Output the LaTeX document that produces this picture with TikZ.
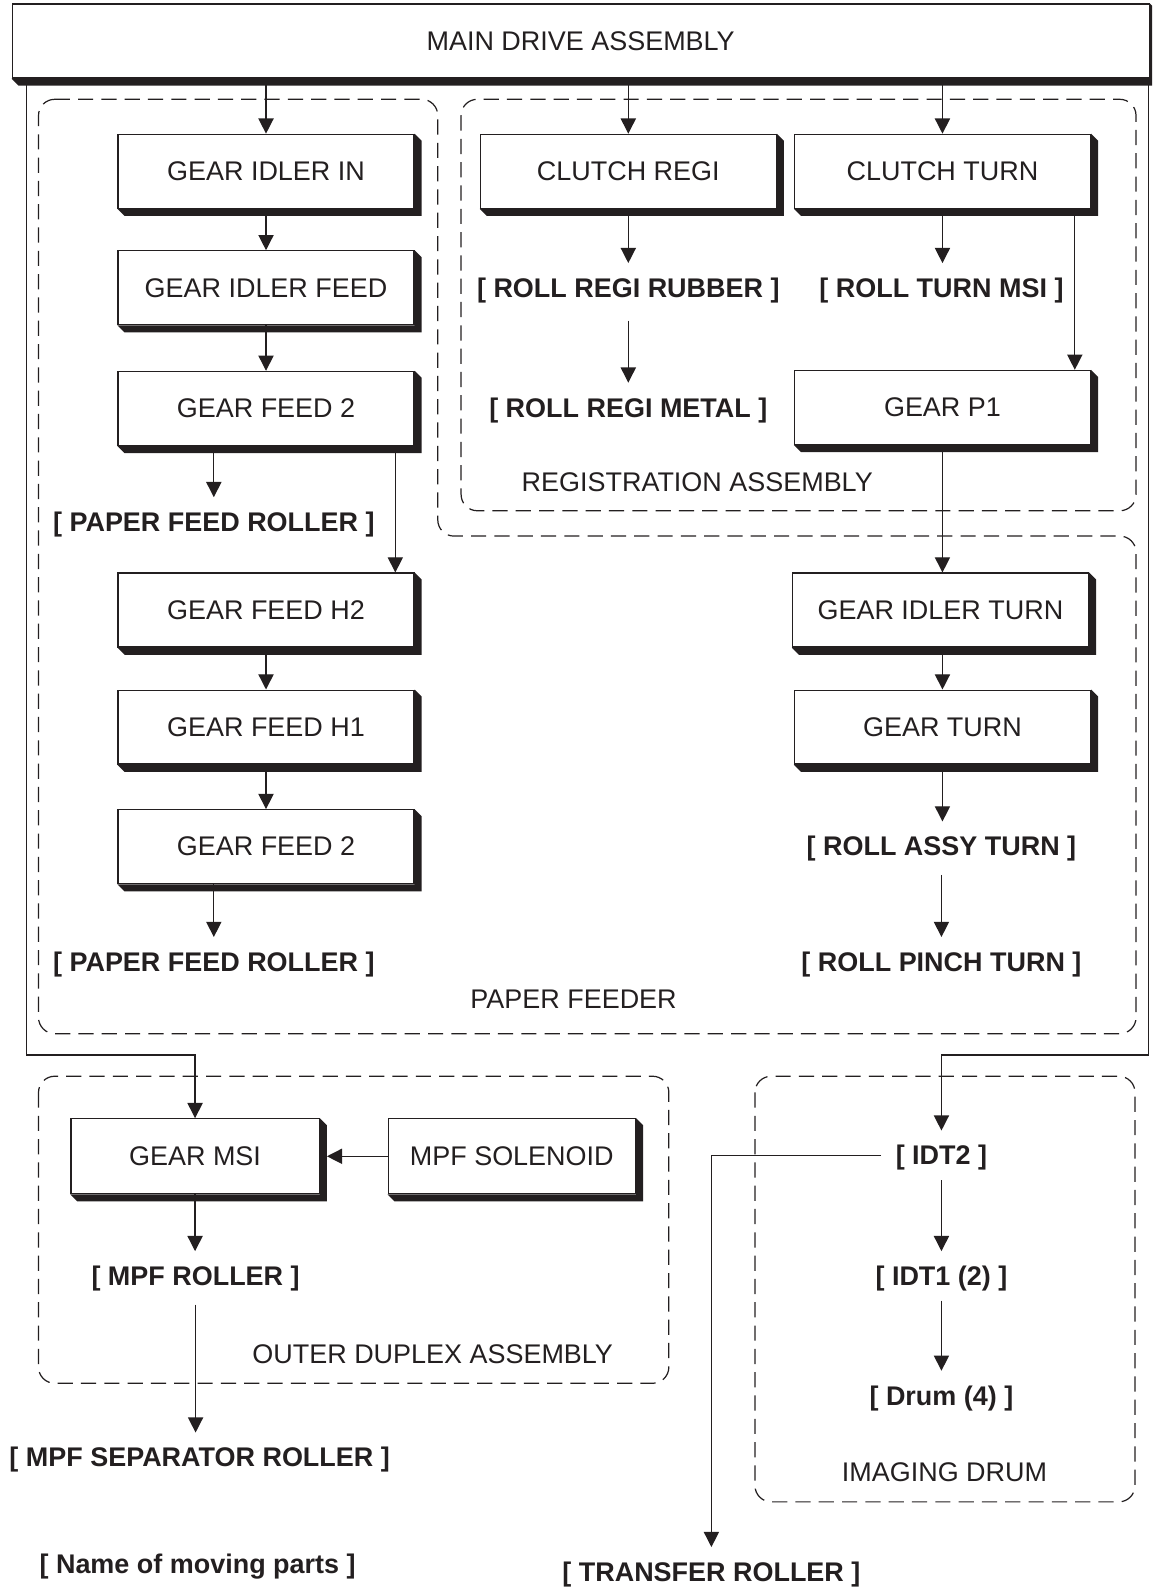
\documentclass[tikz,border=0pt]{standalone}
\usepackage{fontspec}
\setmainfont{Liberation Sans}
\usetikzlibrary{arrows.meta,calc,backgrounds}
\definecolor{shd}{HTML}{231F20}
\newcommand\boxshade[1]{\fill[shd] (#1.south west) -- ([shift={(7,7)}]#1.south west) -- ([shift={(7,7)}]#1.south east) -- ([shift={(7,7)}]#1.north east) -- (#1.north east) -- (#1.south east) -- cycle;}
\begin{document}
\begin{tikzpicture}[x=0.5pt,y=-0.5pt,
  >={Triangle[length=7.5pt,width=7.5pt]},
  gbox/.style={draw=shd,line width=0.6pt,fill=white,minimum width=146pt,minimum height=36.5pt,inner sep=0pt,text=shd,font=\fontsize{13.3}{16}\selectfont},
  part/.style={inner sep=0pt,minimum height=24pt,text height=12pt,text depth=2.5pt,text=shd,font=\fontsize{13.3}{16}\selectfont\bfseries},
  grp/.style={inner sep=0pt,text=shd,font=\fontsize{13.3}{16}\selectfont},
  conn/.style={->,draw=shd,line width=0.65pt},
  region/.style={draw=shd,line width=0.6pt,dash pattern=on 7.5pt off 4pt,rounded corners=8pt},
]
\useasboundingbox (0,0) rectangle (1137,1568);
\clip (0,0) rectangle (1137,1568);

% main drive
\node[gbox,minimum width=561pt,minimum height=36.5pt] (main) at (573,40.5) {MAIN DRIVE ASSEMBLY};

% left column
\node[gbox] (gin)  at (262.5,169)   {GEAR IDLER IN};
\node[gbox] (gif)  at (262.5,284)   {GEAR IDLER FEED};
\node[gbox] (gf2a) at (262.5,403)   {GEAR FEED 2};
\node[part] (pfr1) at (211,515)     {[ PAPER FEED ROLLER ]};
\node[gbox] (gfh2) at (262.5,602)   {GEAR FEED H2};
\node[gbox] (gfh1) at (262.5,717.5) {GEAR FEED H1};
\node[gbox] (gf2b) at (262.5,835.5) {GEAR FEED 2};
\node[part] (pfr2) at (211,949)     {[ PAPER FEED ROLLER ]};

% registration
\node[gbox] (crg) at (620,169) {CLUTCH REGI};
\node[gbox] (ctn) at (930,169) {CLUTCH TURN};
\node[part] (rrr) at (620,284) {[ ROLL REGI RUBBER ]};
\node[part] (rtm) at (929,284) {[ ROLL TURN MSI ]};
\node[part] (rrm) at (620,402) {[ ROLL REGI METAL ]};
\node[gbox] (gp1) at (930,402) {GEAR P1};
\node[grp] (regt) at (688,476) {REGISTRATION ASSEMBLY};

% right lower
\node[gbox] (git) at (928,602)   {GEAR IDLER TURN};
\node[gbox] (gtn) at (930,717.5) {GEAR TURN};
\node[part] (rat) at (929,835)   {[ ROLL ASSY TURN ]};
\node[part] (rpt) at (929,949)   {[ ROLL PINCH TURN ]};
\node[grp] (pft) at (566,986)    {PAPER FEEDER};

% outer duplex
\node[gbox,minimum width=122.5pt,minimum height=37pt] (gmsi) at (192.5,1141) {GEAR MSI};
\node[gbox,minimum width=122pt,minimum height=37pt] (mpf) at (505,1141) {MPF SOLENOID};
\node[part] (mpfr) at (193,1259) {[ MPF ROLLER ]};
\node[grp] (odt) at (427,1336) {OUTER DUPLEX ASSEMBLY};
\node[part] (msr) at (197,1438) {[ MPF SEPARATOR ROLLER ]};
\node[part] (leg) at (195,1543) {[ Name of moving parts ]};

% imaging drum
\node[part] (idt2) at (929,1140) {[ IDT2 ]};
\node[part] (idt1) at (929,1259) {[ IDT1 (2) ]};
\node[part] (drum) at (929,1377) {[ Drum (4) ]};
\node[grp] (idt) at (932,1453) {IMAGING DRUM};
\node[part] (tr) at (702,1551) {[ TRANSFER ROLLER ]};

% shadows
\foreach \n in {main,gin,gif,gf2a,gfh2,gfh1,gf2b,crg,ctn,gp1,git,gtn,gmsi,mpf} {\boxshade{\n}}

\draw[conn] (mpf.west) -- ($(gmsi.east)+(7,0)$);

\begin{scope}[on background layer]
  % dashed regions
  \draw[region] (455,98) rectangle (1121,504);
  \draw[region] (38,98) -- (432,98) -- (432,529) -- (1121,529) -- (1121,1020) -- (38,1020) -- cycle;
  \draw[region] (38,1062) rectangle (660,1365);
  \draw[region] (745,1062) rectangle (1120,1482);

  \coordinate (fl) at (26,1041);
  \coordinate (fr) at (1133,1041);

  % left column
  \draw[conn] (main.south -| gin) -- (gin.north);
  \draw[conn] (gin.south) -- (gif.north);
  \draw[conn] (gif.south) -- (gf2a.north);
  \draw[conn] (pfr1 |- gf2a.south) -- (pfr1.north);
  \draw[conn] ($(gf2a.south east)+(-19,0)$) coordinate (b1) -- (b1 |- gfh2.north);
  \draw[conn] (gfh2.south) -- (gfh1.north);
  \draw[conn] (gfh1.south) -- (gf2b.north);
  \draw[conn] (pfr2 |- gf2b.south) -- (pfr2.north);

  % registration
  \draw[conn] (main.south -| crg) -- (crg.north);
  \draw[conn] (main.south -| ctn) -- (ctn.north);
  \draw[conn] (crg.south) -- (rrr.north);
  \draw[conn] (ctn.south) -- (ctn.south |- rtm.north);
  \draw[conn,shorten <=4pt] (rrr.south) -- (rrm.north);
  \draw[conn] ($(ctn.south east)+(-16,0)$) coordinate (b2) -- (b2 |- gp1.north);

  % right lower
  \draw[conn] (gp1.south) -- (gp1.south |- git.north);
  \draw[conn] (git.south -| gtn) -- (gtn.north);
  \draw[conn] (gtn.south) -- (gtn.south |- rat.north);
  \draw[conn,shorten <=2pt] (rat.south) -- (rpt.north);

  % frame lines
  \draw[conn] (main.south -| fl) -- (fl) -- (fl -| gmsi) -- (gmsi.north);
  \draw[conn] (main.south -| fr) -- (fr) -- (fr -| idt2) -- (idt2.north);

  % outer duplex
  \draw[conn] (gmsi.south) -- (gmsi.south |- mpfr.north);
  \draw[conn,shorten <=2pt] (mpfr.south) -- (mpfr.south |- msr.north);

  % imaging drum
  \draw[conn] (idt2.south) -- (idt1.north);
  \draw[conn] (idt1.south) -- (drum.north);
  \draw[conn,shorten <=7pt] (idt2.west) -- (idt2.west -| tr) -- (tr.north);
\end{scope}
\end{tikzpicture}
\end{document}
